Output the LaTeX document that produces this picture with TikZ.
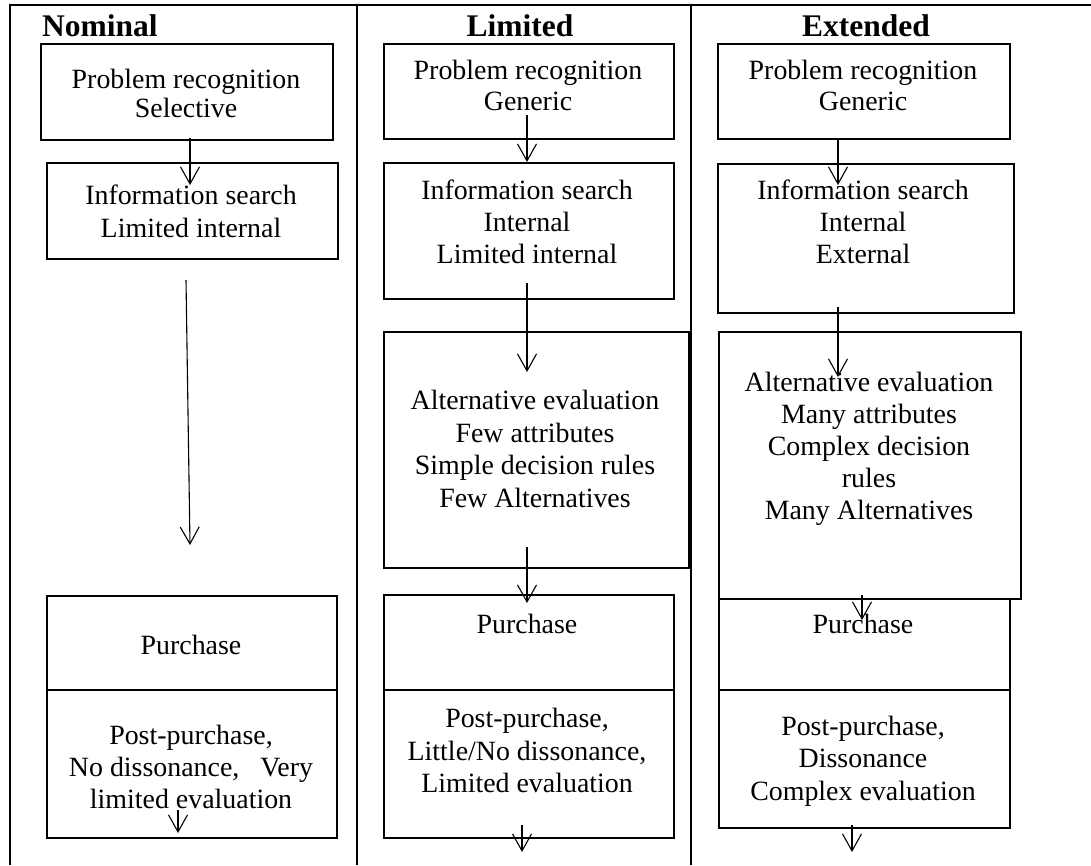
\documentclass[tikz,border=0pt]{standalone}
\usepackage{fontspec}
\setmainfont{Liberation Serif}
\usetikzlibrary{arrows.meta}
\begin{document}
\begin{tikzpicture}[x=1pt,y=-1pt,
  box/.style={draw, line width=2.2pt, inner sep=0pt, anchor=north west},
  rule/.style={line width=1.8pt},
  divl/.style={line width=2.2pt},
  arr/.style={line width=1.1pt, -{Straight Barb[length=17pt,width=19pt]}},
  txt/.style={inner sep=0pt, anchor=base, font=\fontsize{27.9}{32}\selectfont},
  head/.style={inner sep=0pt, anchor=base, font=\fontsize{31.5}{36}\selectfont\bfseries}]
\useasboundingbox (0,0) rectangle (1091,865);
% table rules
\draw[rule] (10,865) -- (10,5) -- (1091,5);
\draw[rule] (357,5) -- (357,865);
\draw[rule] (691,5) -- (691,865);
% headers
\node[head, anchor=base west] (hN) at (42,36) {Nominal};
\node[head] (hL) at (520,36) {Limited};
\node[head] (hE) at (866,36) {Extended};
% ---------- Nominal ----------
\node[box, minimum width=292pt, minimum height=96pt] (nb1) at (40,43) {};
\node[box, minimum width=291pt, minimum height=96pt] (nb2) at (46,162) {};
\node[box, minimum width=290pt, minimum height=242pt] (nb3) at (46,595) {};
\draw[divl] (46,690) -- (336,690);
\node[txt] (n1a) at (186,88) {Problem recognition};
\node[txt] (n1b) at (186,117) {Selective};
\node[txt] (n2a) at (191,204) {Information search};
\node[txt] (n2b) at (191,237) {Limited internal};
\node[txt] (n3a) at (191,654) {Purchase};
\node[txt] (n4a) at (191,744) {Post-purchase,};
\node[txt] (n4b) at (191,776) {No dissonance,\ \ \ Very};
\node[txt] (n4c) at (191,808) {limited evaluation};
\coordinate (na1) at (190,138); \coordinate (na1e) at (190,185);
\coordinate (na2) at (186,280); \coordinate (na2e) at (190,545);
\coordinate (na3) at (178,810); \coordinate (na3e) at (178,833);
\draw[arr] (na1) -- (na1e);
\draw[arr] (na2) -- (na2e);
\draw[arr] (na3) -- (na3e);
% ---------- Limited ----------
\node[box, minimum width=290pt, minimum height=95pt] (lb1) at (383,43) {};
\node[box, minimum width=290pt, minimum height=136pt] (lb2) at (383,162) {};
\node[box, minimum width=305pt, minimum height=236pt] (lb3) at (383,331) {};
\node[box, minimum width=290pt, minimum height=243pt] (lb4) at (383,594) {};
\draw[divl] (383,690) -- (673,690);
\node[txt] (l1a) at (528,79) {Problem recognition};
\node[txt] (l1b) at (528,110) {Generic};
\node[txt] (l2a) at (527,199) {Information search};
\node[txt] (l2b) at (527,231) {Internal};
\node[txt] (l2c) at (527,263) {Limited internal};
\node[txt] (l3a) at (535,409) {Alternative evaluation};
\node[txt] (l3b) at (535,442) {Few attributes};
\node[txt] (l3c) at (535,474) {Simple decision rules};
\node[txt] (l3d) at (535,507) {Few Alternatives};
\node[txt] (l4a) at (527,633) {Purchase};
\node[txt] (l5a) at (527,727) {Post-purchase,};
\node[txt] (l5b) at (527,760) {Little/No dissonance,};
\node[txt] (l5c) at (527,792) {Limited evaluation};
\coordinate (la1) at (527,115); \coordinate (la1e) at (527,162);
\coordinate (la2) at (527,283); \coordinate (la2e) at (527,372);
\coordinate (la3) at (527,547); \coordinate (la3e) at (527,603);
\coordinate (la4) at (522,825); \coordinate (la4e) at (522,852);
\draw[arr] (la1) -- (la1e);
\draw[arr] (la2) -- (la2e);
\draw[arr] (la3) -- (la3e);
\draw[arr] (la4) -- (la4e);
% ---------- Extended ----------
\node[box, minimum width=292pt, minimum height=95pt] (eb1) at (717,43) {};
\node[box, minimum width=296pt, minimum height=149pt] (eb2) at (717,163) {};
\node[box, minimum width=291pt, minimum height=229pt] (eb4) at (718,598) {};
\draw[divl] (718,690) -- (1009,690);
\node[box, minimum width=302pt, minimum height=267pt] (eb3) at (718,331) {};
\node[txt] (e1a) at (863,79) {Problem recognition};
\node[txt] (e1b) at (863,110) {Generic};
\node[txt] (e2a) at (863,199) {Information search};
\node[txt] (e2b) at (863,231) {Internal};
\node[txt] (e2c) at (863,263) {External};
\node[txt] (e3a) at (869,391) {Alternative evaluation};
\node[txt] (e3b) at (869,423) {Many attributes};
\node[txt] (e3c) at (869,455) {Complex decision};
\node[txt] (e3d) at (869,487) {rules};
\node[txt] (e3e) at (869,519) {Many Alternatives};
\node[txt] (e4a) at (863,633) {Purchase};
\node[txt] (e5a) at (863,735) {Post-purchase,};
\node[txt] (e5b) at (863,767) {Dissonance};
\node[txt] (e5c) at (863,800) {Complex evaluation};
\coordinate (ea1) at (838,140); \coordinate (ea1e) at (838,185);
\coordinate (ea2) at (838,307); \coordinate (ea2e) at (838,377);
\coordinate (ea3) at (862,595); \coordinate (ea3e) at (862,620);
\coordinate (ea4) at (852,825); \coordinate (ea4e) at (852,852);
\draw[arr] (ea1) -- (ea1e);
\draw[arr] (ea2) -- (ea2e);
\draw[arr] (ea3) -- (ea3e);
\draw[arr] (ea4) -- (ea4e);
\end{tikzpicture}
\end{document}
